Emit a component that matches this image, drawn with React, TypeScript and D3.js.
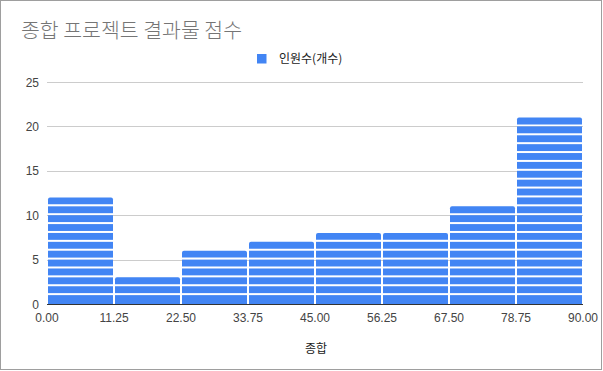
import React from 'react';
import * as d3 from 'd3';

const binEdges = [0, 11.25, 22.5, 33.75, 45, 56.25, 67.5, 78.75, 90];
const counts = [12, 3, 6, 7, 8, 8, 11, 21];
const yTicks = [0, 5, 10, 15, 20, 25];
const title = '종합 프로젝트 결과물 점수';
const seriesName = '인원수(개수)';
const xTitle = '종합';

const W = 603;
const H = 371;
const margin = { left: 47, right: 20, top: 82, bottom: 67 };
const barColor = '#4285f4';
const numFont = '"Liberation Sans", Arial, sans-serif';
const krFont = '"Noto Sans CJK KR", "Noto Sans", sans-serif';

export default function App() {
  const x = d3
    .scaleLinear()
    .domain([0, 90])
    .range([margin.left, W - margin.right]);
  const y = d3
    .scaleLinear()
    .domain([0, 25])
    .range([H - margin.bottom, margin.top]);

  // each count is drawn as its own unit block, like the sheets histogram
  const bars = counts.map((c, i) => {
    const x0 = x(binEdges[i]) + 1;
    const x1 = x(binEdges[i + 1]) - 1;
    const segs = d3.range(c).map((k) => {
      const top = y(k + 1);
      const bottom = y(k) - (k === 0 ? 0 : 2);
      return { top, h: bottom - top, last: k === c - 1 };
    });
    return { x0, x1, segs };
  });

  return (
    <svg
      width={W}
      height={H}
      style={{ position: 'absolute', left: 0, top: 0, background: '#fff' }}
    >
      <rect x={0.5} y={0.5} width={W - 2} height={H - 2} fill="#fff" stroke="#9e9e9e" />
      <text x={21} y={38} fontFamily={krFont} fontSize={20.5} fontWeight={300} fill="#757575">
        {title}
      </text>
      <rect x={257} y={54} width={9.5} height={9.5} fill={barColor} />
      <text x={279} y={63} fontFamily={krFont} fontSize={12} fill="#222">
        {seriesName}
      </text>
      {yTicks.map((t) => (
        <g key={t}>
          {t > 0 && (
            <line x1={x(0)} x2={x(90)} y1={Math.round(y(t)) + 0.5} y2={Math.round(y(t)) + 0.5} stroke="#cccccc" />
          )}
          <text
            x={39}
            y={y(t) + 4.5}
            textAnchor="end"
            fontFamily={numFont}
            fontSize={12}
            fill="#444"
          >
            {t}
          </text>
        </g>
      ))}
      {bars.map((b, i) => (
        <g key={i}>
          {b.segs.map((s, k) =>
            s.last ? (
              <path
                key={k}
                d={`M${b.x0},${s.top + s.h} V${s.top + 2} Q${b.x0},${s.top} ${b.x0 + 2},${s.top} H${b.x1 - 2} Q${b.x1},${s.top} ${b.x1},${s.top + 2} V${s.top + s.h} Z`}
                fill={barColor}
              />
            ) : (
              <rect key={k} x={b.x0} y={s.top} width={b.x1 - b.x0} height={s.h} fill={barColor} />
            )
          )}
        </g>
      ))}
      <line x1={x(0)} x2={x(90)} y1={y(0) + 0.5} y2={y(0) + 0.5} stroke="#333" />
      {binEdges.map((e) => (
        <text
          key={e}
          x={x(e)}
          y={322}
          textAnchor="middle"
          fontFamily={numFont}
          fontSize={12}
          fill="#444"
        >
          {e.toFixed(2)}
        </text>
      ))}
      <text x={316} y={353} textAnchor="middle" fontFamily={krFont} fontSize={12} fill="#222">
        {xTitle}
      </text>
    </svg>
  );
}
